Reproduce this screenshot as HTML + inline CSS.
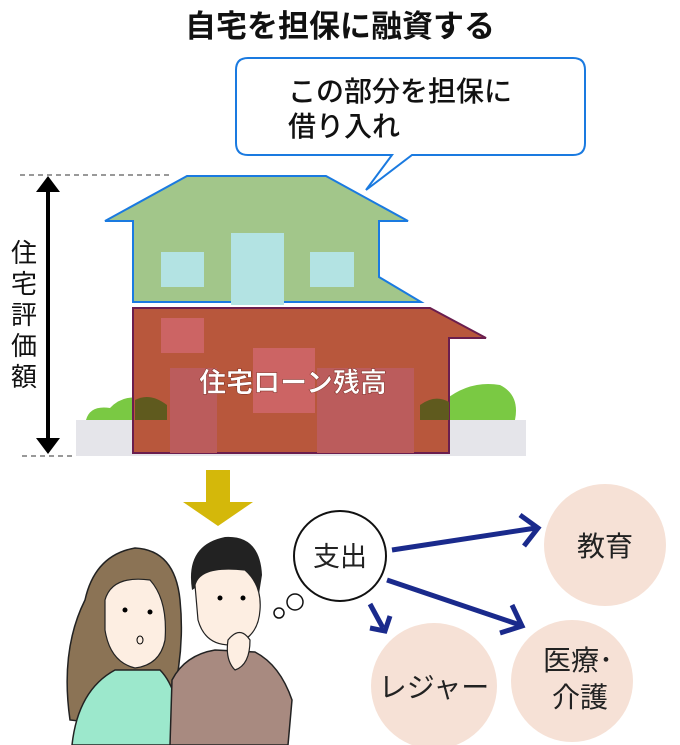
<!DOCTYPE html>
<html><head><meta charset="utf-8"><style>
body{margin:0;background:#fff;width:680px;height:745px;overflow:hidden}
svg{display:block}
text{font-family:"Liberation Sans","Noto Sans CJK JP",sans-serif}
</style></head><body>
<svg width="680" height="745" viewBox="0 0 680 745">
<text x="340" y="37" text-anchor="middle" font-size="31" font-weight="bold" fill="#111">自宅を担保に融資する</text>
<!-- callout -->
<path d="M248,58 H573 Q585,58 585,70 V143 Q585,155 573,155 H412 L366,190 L392,155 H248 Q236,155 236,143 V70 Q236,58 248,58 Z" fill="#fff" stroke="#1a7ae0" stroke-width="2"/>
<text x="288" y="101" font-size="28" font-weight="500" fill="#111">この部分を担保に</text>
<text x="288" y="136" font-size="28" font-weight="500" fill="#111">借り入れ</text>
<!-- dashed -->
<line x1="20" y1="175" x2="172" y2="175" stroke="#333" stroke-dasharray="5,4"/>
<line x1="22" y1="456" x2="75" y2="456" stroke="#333" stroke-dasharray="5,4"/>
<!-- vertical arrow -->
<line x1="48" y1="188" x2="48" y2="442" stroke="#000" stroke-width="4"/>
<polygon points="36,192 48,176 60,192" fill="#000"/>
<polygon points="36,438 48,454 60,438" fill="#000"/>
<text font-size="26" fill="#111"><tspan x="11" y="262">住</tspan><tspan x="11" y="293">宅</tspan><tspan x="11" y="324">評</tspan><tspan x="11" y="355">価</tspan><tspan x="11" y="386">額</tspan></text>
<!-- ground, bushes -->
<rect x="76" y="420" width="450" height="36" fill="#e5e5ea"/>
<path d="M86,420 Q90,405 110,408 Q125,392 150,400 Q165,392 170,420Z" fill="#7ac943"/>
<path d="M415,420 Q420,395 445,400 Q470,380 500,385 Q520,395 515,420Z" fill="#7ac943"/>
<!-- upper house -->
<polygon points="187,176 326,176 408,221 379,221 379,277 421,302 133,302 133,221 105,221" fill="#a2c68a" stroke="#1a7ae0" stroke-width="2"/>
<rect x="161" y="252" width="43" height="35" fill="#b3e3e3"/>
<rect x="231" y="233" width="53" height="72" fill="#b3e3e3"/>
<rect x="310" y="252" width="44" height="35" fill="#b3e3e3"/>
<!-- lower house -->
<polygon points="133,308 430,308 486,338 449,338 449,453 133,453" fill="#b8573c" stroke="#6b1e4e" stroke-width="2"/>
<rect x="161" y="318" width="43" height="35" fill="#cc6464"/>
<rect x="170" y="368" width="47" height="85" fill="#bb5c5c"/>
<rect x="317" y="368" width="97" height="85" fill="#bb5c5c"/>
<rect x="253" y="348" width="62" height="65" fill="#cc6464"/>
<path d="M135,420 V400 Q150,392 167,405 V420Z" fill="#5f5a1e"/>
<path d="M420,420 V405 Q435,394 449,402 V420Z" fill="#5f5a1e"/>
<text x="293" y="392" text-anchor="middle" font-size="27" font-weight="bold" fill="#fff" stroke="#7a2a20" stroke-width="0.5">住宅ローン残高</text>
<!-- yellow arrow -->
<rect x="206" y="470" width="24" height="32" fill="#d4b80a"/>
<polygon points="183,502 253,502 218,526" fill="#d4b80a"/>
<!-- circles -->
<circle cx="605" cy="545" r="61" fill="#f6e1d6"/>
<circle cx="434" cy="686" r="63" fill="#f6e1d6"/>
<circle cx="572" cy="681" r="61" fill="#f6e1d6"/>
<text x="605" y="556" text-anchor="middle" font-size="28" fill="#222">教育</text>
<text x="434" y="697" text-anchor="middle" font-size="28" fill="#222">レジャー</text>
<text x="543" y="670" font-size="28" fill="#222">医療･</text>
<text x="552" y="707" font-size="28" fill="#222">介護</text>
<!-- 支出 -->
<ellipse cx="340" cy="556" rx="46" ry="45" fill="#fff" stroke="#111" stroke-width="2"/>
<text x="340" y="566" text-anchor="middle" font-size="27" fill="#222">支出</text>
<circle cx="295" cy="602" r="8" fill="#fff" stroke="#111" stroke-width="1.5"/>
<circle cx="279" cy="613" r="5" fill="#fff" stroke="#111" stroke-width="1.5"/>
<!-- arrows -->
<g stroke="#1a2a8c" stroke-width="5" fill="none" stroke-linejoin="miter">
<line x1="392" y1="550" x2="536" y2="528"/>
<polyline points="520,515 538,528 524,546"/>
<line x1="387" y1="580" x2="520" y2="625"/>
<polyline points="512,605 522,626 500,633"/>
<line x1="370" y1="604" x2="383" y2="628"/>
<polyline points="370,628 385,631 390,616"/>
</g>
<!-- woman -->
<path d="M70,720 Q60,650 85,600 Q95,555 135,548 Q175,550 180,600 Q185,650 172,700 L160,730 Z" fill="#8b7355" stroke="#222" stroke-width="1.5"/>
<path d="M105,600 Q112,575 150,580 Q168,600 165,640 Q160,665 135,668 Q110,662 105,630Z" fill="#fdeee2" stroke="#222" stroke-width="1.2"/>
<path d="M72,745 Q78,690 115,670 L160,670 Q180,690 182,745Z" fill="#9ce8cc" stroke="#222" stroke-width="1.5"/>
<circle cx="125" cy="610" r="2.5" fill="#000"/><circle cx="150" cy="612" r="2.5" fill="#000"/>
<ellipse cx="140" cy="640" rx="3" ry="4" fill="none" stroke="#000"/>
<!-- man -->
<path d="M192,590 Q185,545 225,537 Q260,535 262,575 L258,600 Q245,570 200,585Z" fill="#222"/>
<path d="M195,585 Q200,565 245,570 Q262,585 260,610 Q258,640 230,645 Q205,645 198,620 Z" fill="#fdeee2" stroke="#222" stroke-width="1.2"/>
<path d="M170,745 L172,680 Q185,655 215,650 L255,652 Q280,665 292,700 L288,745Z" fill="#a88a80" stroke="#222" stroke-width="1.5"/>
<path d="M228,640 Q240,625 250,640 Q250,665 235,670 Q225,660 228,640Z" fill="#fdeee2" stroke="#222" stroke-width="1.2"/>
<circle cx="220" cy="598" r="2.5" fill="#000"/><circle cx="243" cy="598" r="2.5" fill="#000"/>
</svg>
</body></html>
